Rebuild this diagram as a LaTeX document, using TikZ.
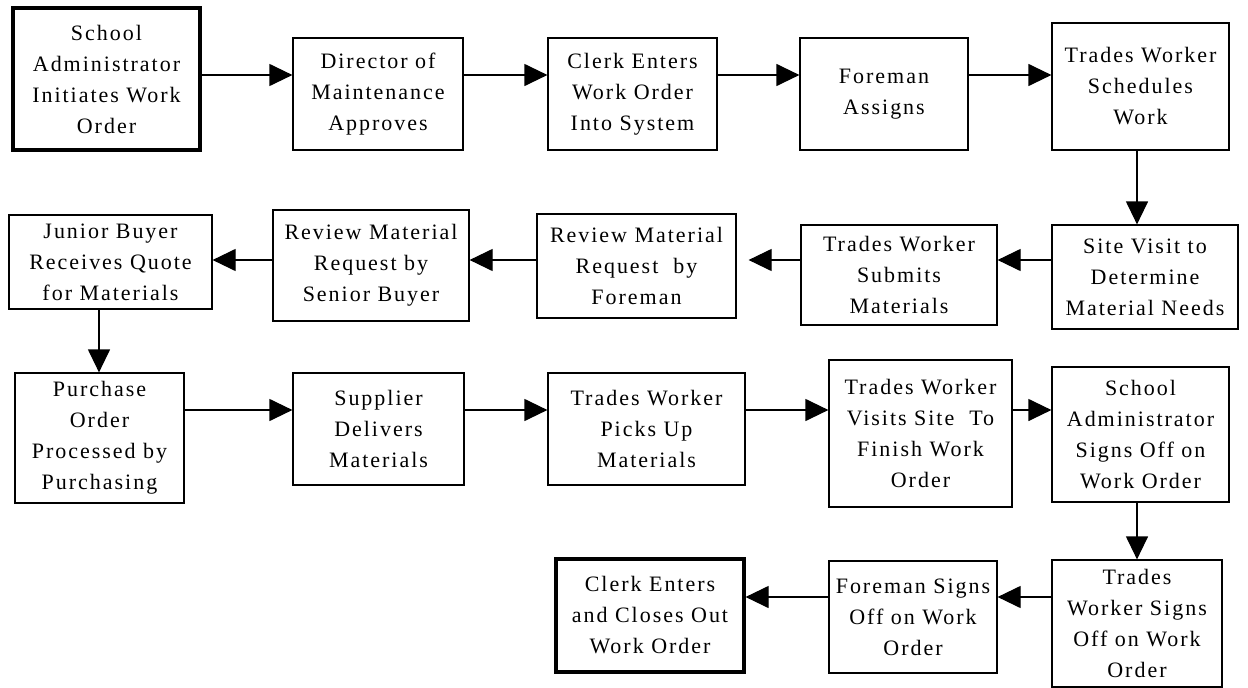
\documentclass[tikz,border=0pt]{standalone}
\usepackage{fontspec}
\setmainfont{Liberation Serif}[LetterSpace=9]
\usetikzlibrary{arrows.meta,calc}
\tikzset{
  box/.style={draw, line width=1.2pt, rectangle, inner sep=0pt, align=center,
    font=\fontsize{22}{31}\selectfont},
  endbox/.style={box, line width=3.2pt},
  arr/.style={line width=1.2pt, -{Triangle[length=23pt,width=22pt]}},
}
\newcommand{\bx}[7][box]{% style, name, l, t, r, b, text
  \node[#1, minimum width={#5-#3}, minimum height={#6-#4}] (#2) at ({(#3+#5)/2},{(#4+#6)/2}) {#7};}
\begin{document}
\begin{tikzpicture}[x=1pt,y=-1pt]
\path[use as bounding box] (0,0) rectangle (1248,688);
% row 1
\bx[endbox]{b1}{13}{8}{200}{150}{School\\Administrator\\Initiates Work\\Order}
\bx{b2}{293}{38}{463}{150}{Director of\\Maintenance\\Approves}
\bx{b3}{548}{38}{717}{150}{Clerk Enters\\Work Order\\Into System}
\bx{b4}{800}{38}{968}{150}{Foreman\\Assigns}
\bx{b5}{1052}{23}{1229}{150}{Trades Worker\\Schedules\\Work}
% row 2
\bx{b6}{1052}{225}{1238}{329}{Site Visit to\\Determine\\Material Needs}
\bx{b7}{801}{225}{997}{325}{Trades Worker\\Submits\\Materials}
\bx{b8}{537}{214}{736}{318}{Review Material\\Request\ \ by\\Foreman}
\bx{b9}{273}{210}{469}{321}{Review Material\\Request by\\Senior Buyer}
\bx{b10}{9}{215}{212}{309}{Junior Buyer\\Receives Quote\\for Materials}
% row 3
\bx{b11}{15}{373}{184}{503}{Purchase\\Order\\Processed by\\Purchasing}
\bx{b12}{293}{373}{464}{485}{Supplier\\Delivers\\Materials}
\bx{b13}{548}{373}{745}{485}{Trades Worker\\Picks Up\\Materials}
\bx{b14}{829}{360}{1012}{507}{Trades Worker\\Visits Site\ \ To\\Finish Work\\Order}
\bx{b15}{1052}{367}{1229}{502}{School\\Administrator\\Signs Off on\\Work Order}
% row 4
\bx{b16}{1052}{560}{1222}{687}{Trades\\Worker Signs\\Off on Work\\Order}
\bx{b17}{829}{561}{997}{673}{Foreman Signs\\Off on Work\\Order}
\bx[endbox]{b18}{556}{559}{744}{672}{Clerk Enters\\and Closes Out\\Work Order}
% helper coordinates for connector lines
\coordinate (r1) at (0,75);
\coordinate (r2) at (0,260);
\coordinate (r3) at (0,410);
\coordinate (r4) at (0,597);
\coordinate (cA) at (1137,0);
\coordinate (cB) at (99,0);
% connectors
\draw[arr] (b1.east |- r1) -- (b2.west |- r1);
\draw[arr] (b2.east |- r1) -- (b3.west |- r1);
\draw[arr] (b3.east |- r1) -- (b4.west |- r1);
\draw[arr] (b4.east |- r1) -- (b5.west |- r1);
\draw[arr] (b5.south -| cA) -- (b6.north -| cA);
\draw[arr] (b6.west |- r2) -- (b7.east |- r2);
\draw[arr, shorten >=12pt] (b7.west |- r2) -- (b8.east |- r2);
\draw[arr] (b8.west |- r2) -- (b9.east |- r2);
\draw[arr] (b9.west |- r2) -- (b10.east |- r2);
\draw[arr] (b10.south -| cB) -- (b11.north -| cB);
\draw[arr] (b11.east |- r3) -- (b12.west |- r3);
\draw[arr] (b12.east |- r3) -- (b13.west |- r3);
\draw[arr] (b13.east |- r3) -- (b14.west |- r3);
\draw[arr] (b14.east |- r3) -- (b15.west |- r3);
\draw[arr] (b15.south -| cA) -- (b16.north -| cA);
\draw[arr] (b16.west |- r4) -- (b17.east |- r4);
\draw[arr] (b17.west |- r4) -- (b18.east |- r4);
\end{tikzpicture}
\end{document}
